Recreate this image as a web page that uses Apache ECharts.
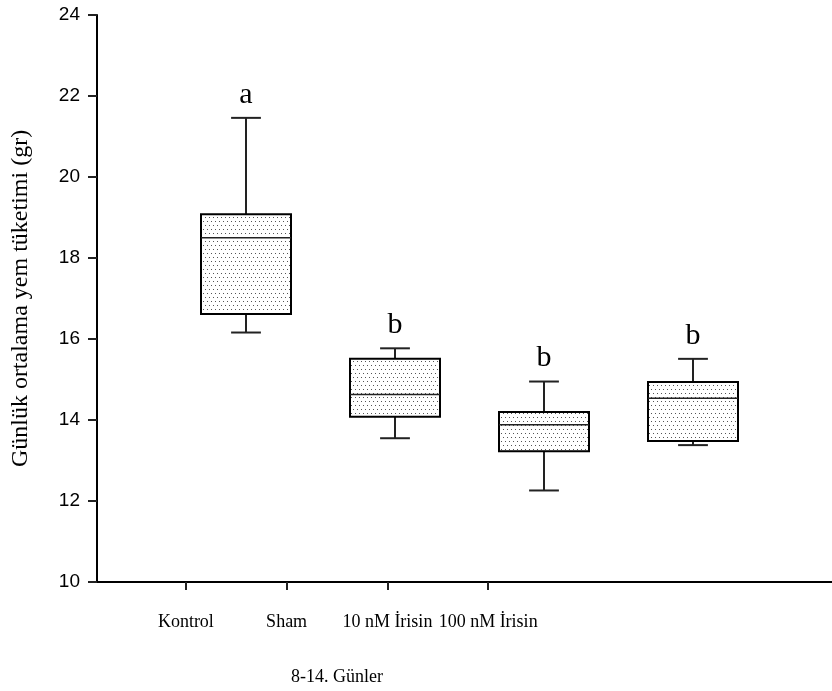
<!DOCTYPE html>
<html>
<head>
<meta charset="utf-8">
<script src="https://cdn.jsdelivr.net/npm/echarts@6/dist/echarts.min.js"></script>
<style>
    html, body { margin: 0; padding: 0; background: #fff; }
    #chart { width: 832px; height: 691px; }
</style>
</head>
<body>
<div id="chart"></div>
<script>
var groups = ['Kontrol', 'Sham', '10 nM İrisin', '100 nM İrisin'];
var mins = [16.16, 13.55, 12.26, 13.38];
var q1s = [16.62, 14.08, 13.23, 13.48];
var medians = [18.50, 14.63, 13.88, 14.54];
var q3s = [19.08, 15.51, 14.20, 14.94];
var maxs = [21.46, 15.77, 14.95, 15.51];
var letters = ['a', 'b', 'b', 'b'];

var yMin = 10, yMax = 24, yStep = 2;

// dotted fill like the original plot
function dotPattern() {
    var c = document.createElement('canvas');
    c.width = 4;
    c.height = 8;
    var ctx = c.getContext('2d');
    ctx.fillStyle = '#fff';
    ctx.fillRect(0, 0, 4, 8);
    ctx.fillStyle = '#555';
    ctx.fillRect(1, 1, 1, 1);
    ctx.fillRect(3, 5, 1, 1);
    return c;
}
var pattern = { image: dotPattern(), repeat: 'repeat' };

var boxData = groups.map(function (g, i) {
    return [i + 1, mins[i], q1s[i], medians[i], q3s[i], maxs[i]];
});

function renderBox(params, api) {
    var x = api.value(0);
    var lo = api.coord([x, api.value(1)]);
    var q1 = api.coord([x, api.value(2)]);
    var md = api.coord([x, api.value(3)]);
    var q3 = api.coord([x, api.value(4)]);
    var hi = api.coord([x, api.value(5)]);
    var bw = api.size([0.604, 0])[0];
    var cw = api.size([0.2, 0])[0];
    var cx = Math.round(lo[0]);
    var whisker = { stroke: '#222', lineWidth: 2 };
    return {
        type: 'group',
        children: [
            { type: 'line', shape: { x1: cx, y1: hi[1], x2: cx, y2: q3[1] }, style: whisker },
            { type: 'line', shape: { x1: cx, y1: q1[1], x2: cx, y2: lo[1] }, style: whisker },
            { type: 'line', shape: { x1: cx - cw / 2, y1: hi[1], x2: cx + cw / 2, y2: hi[1] }, style: whisker },
            { type: 'line', shape: { x1: cx - cw / 2, y1: lo[1], x2: cx + cw / 2, y2: lo[1] }, style: whisker },
            {
                type: 'rect',
                shape: { x: cx - bw / 2, y: q3[1], width: bw, height: q1[1] - q3[1] },
                style: { fill: pattern, stroke: '#000', lineWidth: 2 }
            },
            { type: 'line', shape: { x1: cx - bw / 2, y1: md[1], x2: cx + bw / 2, y2: md[1] }, style: { stroke: '#222', lineWidth: 1.5 } },
            {
                type: 'text',
                style: {
                    text: letters[params.dataIndex],
                    x: cx,
                    y: hi[1] - 8,
                    align: 'center',
                    verticalAlign: 'bottom',
                    fill: '#000',
                    font: '30px "Liberation Serif", "Times New Roman", serif'
                }
            }
        ]
    };
}

var serif = '"Liberation Serif", "Times New Roman", serif';

var chart = echarts.init(document.getElementById('chart'));
var option = {
    animation: false,
    backgroundColor: '#fff',
    grid: [
        { left: 97, right: 0, top: 15, bottom: 109 },
        { left: 135.5, right: 293.5, top: 15, bottom: 109 }
    ],
    xAxis: [
        {
            gridIndex: 0,
            type: 'value',
            min: 0,
            max: 4.933,
            axisLine: { show: true, lineStyle: { color: '#000', width: 2 } },
            axisTick: { show: false },
            axisLabel: { show: false },
            splitLine: { show: false }
        },
        {
            gridIndex: 1,
            type: 'category',
            data: groups,
            axisLine: { show: false },
            axisTick: { show: true, alignWithLabel: true, interval: 0, length: 8, lineStyle: { color: '#222', width: 2 } },
            axisLabel: {
                color: '#000',
                fontSize: 18,
                fontFamily: serif,
                interval: 0,
                margin: 31
            },
            name: '8-14. Günler',
            nameLocation: 'middle',
            nameGap: 86,
            nameTextStyle: {
                color: '#000',
                fontSize: 18,
                fontFamily: serif
            }
        }
    ],
    yAxis: [
        {
            gridIndex: 0,
            type: 'value',
            min: yMin,
            max: yMax,
            interval: yStep,
            axisLine: { show: true, lineStyle: { color: '#000', width: 2 } },
            axisTick: { show: true, inside: false, length: 9, lineStyle: { color: '#222', width: 2 } },
            axisLabel: {
                color: '#000',
                fontSize: 19,
                fontFamily: '"Liberation Sans", Arial, sans-serif',
                margin: 17
            },
            splitLine: { show: false },
            name: 'Günlük ortalama yem tüketimi (gr)',
            nameLocation: 'middle',
            nameGap: 64,
            nameRotate: 90,
            nameTextStyle: {
                color: '#000',
                fontSize: 24,
                fontFamily: serif
            }
        },
        {
            gridIndex: 1,
            type: 'value',
            min: yMin,
            max: yMax,
            show: false
        }
    ],
    series: [
        {
            type: 'custom',
            xAxisIndex: 0,
            yAxisIndex: 0,
            renderItem: renderBox,
            data: boxData,
            encode: { x: 0, y: [1, 2, 3, 4, 5] }
        }
    ]
};
chart.setOption(option);
</script>
</body>
</html>
